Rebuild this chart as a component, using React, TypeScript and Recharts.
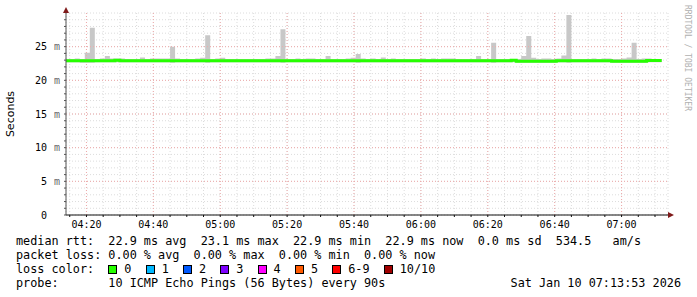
import React from 'react';
import {
  ComposedChart,
  Area,
  Line,
  XAxis,
  YAxis,
  CartesianGrid,
  ReferenceLine,
} from 'recharts';

// time axis in minutes after 04:00, graph window 04:13:53 .. 07:13:53
const START_MIN = 13 + 53 / 60;
const END_MIN = START_MIN + 180;
const FIRST_STEP = 13.5;
const STEP_MIN = 1.5; // one probe every 90s

// median rtt per step (ms)
const medianMs = [
  22.9, 22.9, 22.9, 22.9, 22.9, 22.9, 22.9, 22.9, 22.9, 22.9,
  23.0, 22.9, 22.9, 22.9, 22.9, 22.9, 22.9, 22.9, 22.9, 22.9,
  22.9, 22.9, 22.9, 22.9, 22.9, 22.9, 22.9, 22.9, 22.9, 22.9,
  22.9, 22.9, 22.9, 22.9, 22.9, 22.9, 22.9, 22.9, 22.9, 22.9,
  22.9, 22.9, 22.9, 22.9, 22.9, 22.9, 22.9, 22.9, 22.9, 22.9,
  22.9, 22.9, 22.9, 22.9, 22.9, 22.9, 22.9, 22.9, 22.9, 22.9,
  22.9, 22.9, 22.9, 22.9, 22.9, 22.9, 22.9, 22.9, 22.9, 22.9,
  22.9, 22.9, 22.9, 22.9, 22.9, 22.9, 22.9, 22.9, 22.9, 22.9,
  22.9, 22.9, 22.9, 22.9, 22.9, 22.9, 22.9, 22.9, 22.9, 23.0,
  22.85, 22.85, 22.85, 22.85, 22.85, 22.85, 22.85, 22.85, 22.9, 22.9,
  22.9, 22.9, 22.9, 22.9, 22.9, 22.9, 22.9, 22.9, 22.9, 22.85,
  22.85, 22.85, 22.85, 22.85, 22.85, 22.85, 22.95, 22.95, 22.95,
];

// smoke: slowest ping per step (ms)
const smokeMaxMs = [
  23.15, 23.15, 23.25, 23.15, 24.1, 27.8, 23.15, 23.25, 23.6, 23.25,
  23.25, 23.25, 23.15, 23.15, 23.15, 23.4, 23.15, 23.25, 23.25, 23.25,
  23.25, 25.0, 23.25, 23.15, 23.15, 23.15, 23.25, 23.35, 26.7, 23.15,
  23.25, 23.35, 23.15, 23.15, 23.15, 23.15, 23.15, 23.15, 23.15, 23.15,
  23.25, 23.25, 23.6, 27.6, 23.15, 23.15, 23.25, 23.15, 23.25, 23.25,
  23.15, 23.15, 23.6, 23.15, 23.15, 23.15, 23.25, 23.35, 23.9, 23.25,
  23.15, 23.25, 23.15, 23.4, 23.15, 23.25, 23.15, 23.15, 23.15, 23.15,
  23.15, 23.25, 23.15, 23.25, 23.15, 23.25, 23.25, 23.25, 23.15, 23.15,
  23.15, 23.15, 23.6, 23.15, 23.15, 25.6, 23.15, 23.15, 23.15, 23.15,
  23.15, 23.6, 26.6, 23.35, 23.15, 23.25, 23.25, 23.15, 23.25, 23.7,
  29.7, 23.15, 23.15, 23.15, 23.15, 23.25, 23.15, 23.25, 23.25, 23.15,
  23.15, 23.25, 23.4, 25.6, 23.15, 23.25, 23.25, 23.15, 23.15,
];

// smoke: fastest ping per step (ms)
const smokeMinMs = [
  22.7, 22.7, 22.7, 22.6, 22.6, 22.6, 22.7, 22.7, 22.7, 22.7,
  22.7, 22.7, 22.7, 22.7, 22.7, 22.7, 22.7, 22.7, 22.7, 22.7,
  22.7, 22.6, 22.7, 22.7, 22.7, 22.7, 22.7, 22.7, 22.6, 22.7,
  22.7, 22.7, 22.7, 22.7, 22.7, 22.7, 22.7, 22.7, 22.7, 22.7,
  22.7, 22.7, 22.7, 22.6, 22.7, 22.7, 22.7, 22.7, 22.7, 22.7,
  22.7, 22.7, 22.7, 22.7, 22.7, 22.7, 22.7, 22.7, 22.6, 22.7,
  22.7, 22.7, 22.7, 22.7, 22.7, 22.7, 22.7, 22.7, 22.7, 22.7,
  22.7, 22.7, 22.7, 22.7, 22.7, 22.7, 22.7, 22.7, 22.7, 22.7,
  22.7, 22.7, 22.7, 22.7, 22.7, 22.6, 22.7, 22.7, 22.7, 22.7,
  22.6, 22.6, 22.6, 22.6, 22.6, 22.6, 22.6, 22.6, 22.7, 22.7,
  22.6, 22.7, 22.7, 22.7, 22.7, 22.7, 22.7, 22.7, 22.7, 22.6,
  22.6, 22.6, 22.6, 22.6, 22.6, 22.6, 22.7, 22.7, 22.7,
];

const majorTimes = [20, 40, 60, 80, 100, 120, 140, 160, 180];
const timeLabels = ['04:20', '04:40', '05:00', '05:20', '05:40', '06:00', '06:20', '06:40', '07:00'];
const minorTimes = [15, 20, 25, 30, 35, 40, 45, 50, 55, 60, 65, 70, 75, 80, 85, 90, 95, 100, 105, 110,
  115, 120, 125, 130, 135, 140, 145, 150, 155, 160, 165, 170, 175, 180, 185, 190];

const majorMs = [0, 5, 10, 15, 20, 25];
const msLabels = ['0', '5', '10', '15', '20', '25'];
const minorMs = [0, 1, 2, 3, 4, 5, 6, 7, 8, 9, 10, 11, 12, 13, 14, 15, 16, 17, 18, 19, 20,
  21, 22, 23, 24, 25, 26, 27, 28, 29];

const lossNames = ['0', '1', '2', '3', '4', '5', '6-9', '10/10'];
const lossColors = ['#26ff00', '#00b8ff', '#0059ff', '#7e00ff', '#ff00ff', '#ff5a00', '#ff0000', '#a00000'];

const MONO = '"DejaVu Sans Mono", monospace';

const stepTime = (i: number) => Math.max(START_MIN, FIRST_STEP + STEP_MIN * i);

const data = medianMs.map((m, i) => ({
  t: stepTime(i),
  median: m,
  smoke: [smokeMinMs[i], smokeMaxMs[i]],
}));
// close the last step
const last = medianMs.length - 1;
data.push({
  t: FIRST_STEP + STEP_MIN * medianMs.length,
  median: medianMs[last],
  smoke: [smokeMinMs[last], smokeMaxMs[last]],
});

const SecondsTick = (props: any) => {
  const { x, y, payload } = props;
  const idx = majorMs.indexOf(payload.value);
  if (idx < 0) return <g />;
  return (
    <g>
      <text x={x - 17} y={y} dy="0.36em" textAnchor="end" fontFamily={MONO} fontSize={10} fill="#000">
        {msLabels[idx]}
      </text>
      {payload.value !== 0 && (
        <text x={x - 4} y={y} dy="0.36em" textAnchor="end" fontFamily={MONO} fontSize={10} fill="#666">
          m
        </text>
      )}
    </g>
  );
};

const timeFormatter = (v: number) => {
  const idx = majorTimes.indexOf(v);
  return idx < 0 ? '' : timeLabels[idx];
};

const legendLine: React.CSSProperties = {
  position: 'absolute',
  left: 16,
  height: 14,
  lineHeight: '14px',
  fontFamily: MONO,
  fontSize: 11.8,
  whiteSpace: 'pre',
  color: '#000',
};

export default function App() {
  return (
    <div style={{ position: 'absolute', left: 0, top: 0, width: 697, height: 297, background: '#fff' }}>
      <ComposedChart
        width={697}
        height={297}
        data={data}
        margin={{ top: 13, right: 29, left: 16, bottom: 62 }}
      >
        <CartesianGrid stroke="#dcdcdc" strokeDasharray="1 2" />
        {majorMs.slice(1).map((v) => (
          <ReferenceLine key={'y' + v} y={v} stroke="#eeaaaa" strokeDasharray="1 2" />
        ))}
        {majorTimes.map((v) => (
          <ReferenceLine key={'x' + v} x={v} stroke="#eeaaaa" strokeDasharray="1 2" />
        ))}
        <XAxis
          dataKey="t"
          type="number"
          domain={[START_MIN, END_MIN]}
          allowDataOverflow
          ticks={minorTimes}
          tickFormatter={timeFormatter}
          interval={0}
          height={20}
          tickSize={2}
          tickMargin={4}
          stroke="#111"
          tick={{ fill: '#000', fontSize: 10, fontFamily: MONO }}
        />
        <YAxis
          type="number"
          domain={[0, 30]}
          allowDataOverflow
          ticks={minorMs}
          interval={0}
          width={50}
          tickSize={2}
          tickMargin={0}
          stroke="#555"
          tick={<SecondsTick />}
        />
        <Area
          dataKey="smoke"
          type="stepAfter"
          fill="#c8c8c8"
          fillOpacity={1}
          stroke="none"
          isAnimationActive={false}
          dot={false}
          activeDot={false}
        />
        <Line
          dataKey="median"
          type="stepAfter"
          stroke="#26ff00"
          strokeWidth={3}
          dot={false}
          activeDot={false}
          isAnimationActive={false}
        />
      </ComposedChart>

      <svg
        width={697}
        height={297}
        style={{ position: 'absolute', left: 0, top: 0, pointerEvents: 'none' }}
      >
        <polygon points="66,7 63,13 69,13" fill="#7f1a1a" />
        <polygon points="674,215 668,212 668,218" fill="#7f1a1a" />
        <text
          x={14}
          y={114}
          transform="rotate(-90 14 114)"
          textAnchor="middle"
          fontFamily='"DejaVu Sans", sans-serif'
          fontSize={11}
          fill="#000"
        >
          Seconds
        </text>
        <text
          x={685}
          y={5}
          transform="rotate(90 685 5)"
          textAnchor="start"
          fontFamily={MONO}
          fontSize={8}
          fill="#b0b0b0"
        >
          RRDTOOL / TOBI OETIKER
        </text>
      </svg>

      <div style={{ ...legendLine, top: 234 }}>
        {'median rtt:  22.9 ms avg  23.1 ms max  22.9 ms min  22.9 ms now  0.0 ms sd  534.5   am/s'}
      </div>
      <div style={{ ...legendLine, top: 248 }}>
        {'packet loss: 0.00 % avg  0.00 % max  0.00 % min  0.00 % now'}
      </div>
      <div style={{ ...legendLine, top: 262 }}>
        {'loss color:  '}
        {lossNames.map((name, i) => (
          <span key={name}>
            <span
              style={{
                display: 'inline-block',
                boxSizing: 'border-box',
                width: 9,
                height: 9,
                marginRight: 7,
                verticalAlign: '-1px',
                background: lossColors[i],
                border: '1px solid #000',
              }}
            />
            {name + '  '}
          </span>
        ))}
      </div>
      <div style={{ ...legendLine, top: 276 }}>
        {'probe:       10 ICMP Echo Pings (56 Bytes) every 90s'}
      </div>
      <div style={{ ...legendLine, top: 276, left: 'auto', right: 16 }}>
        {'Sat Jan 10 07:13:53 2026'}
      </div>
    </div>
  );
}
